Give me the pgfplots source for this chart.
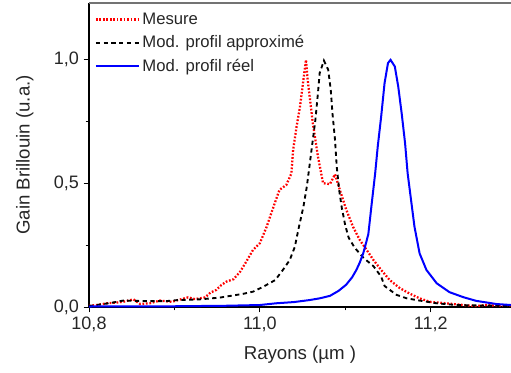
\documentclass[border=0pt]{standalone}
\usepackage{pgfplots}
\pgfplotsset{compat=1.18}
\usepackage{fontspec}
\setmainfont{Liberation Sans}
\begin{document}
\begin{tikzpicture}
\useasboundingbox (-66.75pt,-48.75pt) rectangle (316.5pt,230.25pt);
\begin{axis}[
  at={(0,0)}, anchor=south west,
  scale only axis, width=316.5pt, height=228pt,
  xmin=10.8, xmax=11.294, ymin=0, ymax=1.23,
  axis x line*=bottom, axis y line*=left,
  axis line style={black, line width=0.9pt, -},
  tick align=outside,
  major tick length=4pt, minor tick length=2.5pt,
  xtick={10.8,11.0,11.2}, minor xtick={10.9,11.1},
  ytick={0,0.5,1.0}, minor ytick={0.25,0.75},
  tick style={black, line width=0.6pt},
  /pgf/number format/assume math mode=true,
  /pgf/number format/use comma,
  /pgf/number format/fixed,
  /pgf/number format/fixed zerofill,
  /pgf/number format/precision=1,
  scaled ticks=false,
  tick label style={font=\fontsize{13.5}{16}\selectfont, text=black!85},
  xlabel={Rayons (µm )}, ylabel={Gain Brillouin (u.a.)},
  label style={font=\fontsize{14}{16}\selectfont, text=black!85},
  xlabel style={at={(axis description cs:0.5,-0.158)}, anchor=center},
  ylabel style={at={(axis description cs:-0.152,0.5)}, anchor=center},
  legend style={at={(axis description cs:0.01,0.982)}, anchor=north west,
    draw=none, fill=none, font=\fontsize{12.5}{14}\selectfont, text=black!85,
    row sep=3pt, inner sep=1pt},
  legend cell align=left,
  legend image code/.code={\draw[#1] (0pt,0pt) -- (32pt,0pt);},
  clip=true,
]
\addplot[red, line width=1.7pt, dash pattern=on 1.3pt off 1.3pt] coordinates {
(10.800,0.005) (10.809,0.008) (10.821,0.015) (10.832,0.018) (10.840,0.021)
(10.852,0.031) (10.860,0.012) (10.871,0.015) (10.883,0.026) (10.897,0.021)
(10.904,0.028) (10.916,0.039) (10.924,0.032) (10.936,0.039) (10.942,0.058)
(10.949,0.069) (10.955,0.089) (10.961,0.103) (10.969,0.112) (10.977,0.143)
(10.984,0.183) (10.992,0.231) (11.000,0.258) (11.008,0.325) (11.016,0.406)
(11.023,0.474) (11.031,0.494) (11.037,0.541) (11.039,0.636) (11.043,0.730)
(11.047,0.811) (11.051,0.919) (11.054,1.000) (11.056,0.919) (11.062,0.744)
(11.068,0.609) (11.074,0.501) (11.082,0.497) (11.088,0.537) (11.094,0.470)
(11.101,0.395) (11.109,0.325) (11.117,0.271) (11.125,0.231) (11.133,0.190)
(11.142,0.150) (11.152,0.109) (11.164,0.076) (11.175,0.055) (11.187,0.035)
(11.199,0.021) (11.218,0.015) (11.238,0.008) (11.253,0.004) (11.265,0.008)
(11.280,0.005) (11.294,0.006)
};
\addlegendentry{Mesure}
\addplot[black, line width=1.4pt, dash pattern=on 3.2pt off 2.6pt] coordinates {
(10.800,0.004) (10.817,0.012) (10.828,0.018) (10.840,0.026) (10.865,0.024)
(10.891,0.024) (10.904,0.028) (10.930,0.031) (10.953,0.038) (10.980,0.053)
(10.992,0.062) (11.004,0.082) (11.018,0.109) (11.027,0.150) (11.035,0.190)
(11.041,0.244) (11.045,0.312) (11.051,0.406) (11.055,0.487) (11.058,0.568)
(11.062,0.676) (11.065,0.757) (11.068,0.865) (11.070,0.946) (11.075,0.997)
(11.080,0.960) (11.083,0.879) (11.085,0.784) (11.088,0.676) (11.090,0.568)
(11.093,0.470) (11.096,0.400) (11.100,0.330) (11.104,0.280) (11.111,0.240)
(11.121,0.200) (11.133,0.165) (11.142,0.123) (11.146,0.085) (11.160,0.049)
(11.172,0.035) (11.187,0.026) (11.207,0.015) (11.230,0.008) (11.294,0.004)
};
\addlegendentry{Mod. profil approximé}
\addplot[blue, line width=1.5pt] coordinates {
(10.800,0.002) (10.900,0.003) (10.960,0.005) (11.000,0.008) (11.019,0.015)
(11.040,0.020) (11.058,0.028) (11.070,0.035) (11.082,0.045) (11.092,0.065)
(11.101,0.090) (11.108,0.120) (11.113,0.150) (11.117,0.180) (11.121,0.217)
(11.124,0.255) (11.127,0.295) (11.131,0.420) (11.135,0.541) (11.138,0.649)
(11.142,0.770) (11.146,0.906) (11.150,0.987) (11.153,1.000) (11.158,0.973)
(11.162,0.892) (11.166,0.784) (11.170,0.663) (11.173,0.541) (11.177,0.433)
(11.181,0.325) (11.187,0.217) (11.195,0.150) (11.207,0.096) (11.222,0.060)
(11.238,0.040) (11.253,0.025) (11.277,0.012) (11.294,0.008)
};
\addlegendentry{Mod. profil réel}
\draw[black!55, line width=1.3pt] (rel axis cs:0,1) -- (rel axis cs:1,1);
\end{axis}
\end{tikzpicture}
\end{document}
